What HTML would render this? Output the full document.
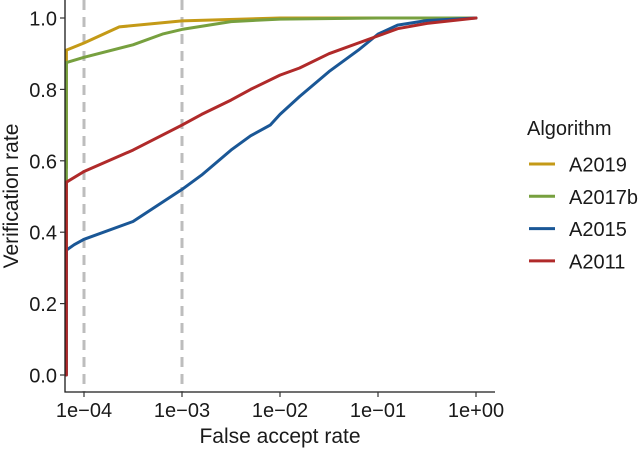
<!DOCTYPE html>
<html><head><meta charset="utf-8"><style>
body{margin:0;background:#fff;}
svg text{font-family:"Liberation Sans",sans-serif;fill:#1a1a1a;}
</style></head><body>
<svg width="640" height="450" viewBox="0 0 640 450">
<g id="plot"></g>
</svg>
<script>
const xTicks=[-4,-3,-2,-1,0];
const xTickLabels=["1e\u221204","1e\u221203","1e\u221202","1e\u221201","1e+00"];
const yTicks=[0,0.2,0.4,0.6,0.8,1.0];
const yTickLabels=["0.0","0.2","0.4","0.6","0.8","1.0"];
const refLines=[-4,-3];
const seriesNames=["A2019","A2017b","A2015","A2011"];
const seriesColors=["#c49a17","#77a03f","#1a5796","#b02a2a"];
const a2019X=[-4.18,-4.18,-4.0,-3.64,-3.0,-2.0,0];
const a2019Y=[0.58,0.91,0.93,0.975,0.992,1.0,1.0];
const a2017bX=[-4.18,-4.18,-4.0,-3.5,-3.2,-3.0,-2.5,-2.0,-1.0,0];
const a2017bY=[0.2,0.875,0.89,0.925,0.955,0.968,0.99,0.997,1.0,1.0];
const a2015X=[-4.18,-4.18,-4.1,-4.0,-3.5,-3.0,-2.8,-2.5,-2.3,-2.1,-2.0,-1.8,-1.5,-1.2,-1.0,-0.8,-0.5,0];
const a2015Y=[0.0,0.35,0.365,0.38,0.43,0.52,0.56,0.63,0.67,0.70,0.73,0.78,0.85,0.91,0.955,0.98,0.993,1.0];
const a2011X=[-4.18,-4.18,-4.0,-3.5,-3.0,-2.8,-2.5,-2.3,-2.0,-1.8,-1.5,-1.0,-0.8,-0.5,0];
const a2011Y=[0.0,0.54,0.57,0.63,0.70,0.73,0.77,0.80,0.84,0.86,0.90,0.95,0.97,0.985,1.0];
const allX=[a2019X,a2017bX,a2015X,a2011X];
const allY=[a2019Y,a2017bY,a2015Y,a2011Y];

const NS="http://www.w3.org/2000/svg";
const g=document.getElementById('plot');
const sx=v=>84+(v+4)*98;
const sy=v=>375-v*357;
function mk(tag,attrs,parent){const e=document.createElementNS(NS,tag);for(const k in attrs)e.setAttribute(k,attrs[k]);(parent||g).appendChild(e);return e;}

refLines.forEach(v=>{
  const l=mk('line',{x1:sx(v),x2:sx(v),y1:0,y2:392,stroke:'#bdbdbd','stroke-width':3,'stroke-dasharray':'10,7'});
  
  
});
allX.forEach((xs,i)=>{
  const d=xs.map((x,j)=>(j?'L':'M')+sx(x).toFixed(1)+','+sy(allY[i][j]).toFixed(1)).join('');
  const p=mk('path',{d:d,fill:'none',stroke:seriesColors[i],'stroke-width':3,'stroke-linejoin':'round','stroke-linecap':'round'});
  
  
});
const ax=mk('path',{d:'M65,0V392H495',fill:'none',stroke:'#1a1a1a','stroke-width':1.3});


xTicks.forEach((v,i)=>{
  mk('line',{x1:sx(v),x2:sx(v),y1:392,y2:397,stroke:'#333','stroke-width':1.2});
  const t=mk('text',{x:sx(v),y:417,'text-anchor':'middle','font-size':20});
  t.textContent=xTickLabels[i];
  
  
});
yTicks.forEach((v,i)=>{
  mk('line',{x1:60,x2:65,y1:sy(v),y2:sy(v),stroke:'#333','stroke-width':1.2});
  const t=mk('text',{x:57,y:sy(v)+7.5,'text-anchor':'end','font-size':20});
  t.textContent=yTickLabels[i];
  
  
});
const xt=mk('text',{x:280,y:443,'text-anchor':'middle','font-size':21});
xt.textContent='False accept rate';


const yt=mk('text',{x:0,y:0,'text-anchor':'middle','font-size':21,transform:'translate(18,196) rotate(-90)'});
yt.textContent='Verification rate';


const lt=mk('text',{x:527,y:135,'font-size':20});
lt.textContent='Algorithm';


seriesNames.forEach((n,i)=>{
  const y=164+i*32.3;
  const grp=mk('g',{});
  
  
  mk('line',{x1:529,x2:555,y1:y,y2:y,stroke:seriesColors[i],'stroke-width':3},grp);
  const t=mk('text',{x:569,y:y+7.5,'font-size':20},grp);
  t.textContent=n;
});
</script>
</body></html>
